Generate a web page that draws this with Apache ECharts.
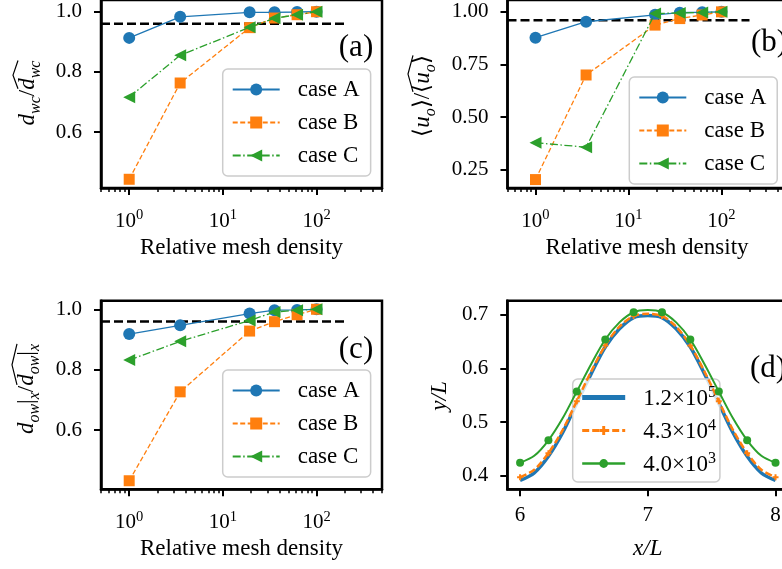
<!DOCTYPE html>
<html>
<head>
<meta charset="utf-8">
<script src="https://cdn.jsdelivr.net/npm/echarts@6/dist/echarts.min.js"></script>
<style>
  html, body { margin: 0; padding: 0; background: #fff; overflow: hidden; }
  #chart { width: 800px; height: 569px; }
</style>
</head>
<body>
<div id="chart"></div>
<script>
// mesh convergence, panels (a)-(c)
const meshDensity = [1, 3.5, 19.3, 35.6, 62, 100];
const caseNames = ["case A", "case B", "case C"];
const dwcA = [0.913, 0.983, 0.998, 0.998, 0.999, 1.0];
const dwcB = [0.443, 0.763, 0.947, 0.979, 0.99, 1.0];
const dwcC = [0.716, 0.855, 0.948, 0.978, 0.99, 1.0];
const uoA = [0.877, 0.953, 0.986, 0.996, 0.998, 1.0];
const uoB = [0.203, 0.70, 0.937, 0.968, 0.985, 1.0];
const uoC = [0.378, 0.357, 0.992, 0.995, 0.997, 1.0];
const dowA = [0.918, 0.947, 0.986, 0.997, 0.998, 1.0];
const dowB = [0.433, 0.727, 0.928, 0.959, 0.982, 1.0];
const dowC = [0.832, 0.894, 0.963, 0.991, 0.997, 1.0];
const refLevel = 0.96;
const refSpan = [0.5, 200];
const decadeTicks = [1, 10, 100];
const minorLogTicks = [0.5, 0.6, 0.7, 0.8, 0.9, 2, 3, 4, 5, 6, 7, 8, 9, 20, 30, 40, 50, 60, 70, 80, 90, 200, 300, 400, 500];

// interface profile, panel (d)
const profileX = [6, 6.111, 6.222, 6.333, 6.444, 6.556, 6.667, 6.778, 6.889, 7, 7.111, 7.222, 7.333, 7.444, 7.556, 7.667, 7.778, 7.889, 8];
const profileFine = [0.391, 0.405, 0.436, 0.480, 0.535, 0.590, 0.640, 0.674, 0.695, 0.699, 0.695, 0.674, 0.640, 0.590, 0.535, 0.480, 0.436, 0.405, 0.391];
const profileMid = [0.397, 0.411, 0.442, 0.485, 0.539, 0.594, 0.643, 0.678, 0.698, 0.702, 0.698, 0.678, 0.643, 0.594, 0.539, 0.485, 0.442, 0.411, 0.397];
const profileCoarse = [0.424, 0.437, 0.466, 0.507, 0.557, 0.608, 0.654, 0.686, 0.705, 0.709, 0.705, 0.686, 0.654, 0.608, 0.557, 0.507, 0.466, 0.437, 0.424];
const profileNames = ["1.2e5", "4.3e4", "4.0e3"];
const profileLabels = { "1.2e5": ["1.2", "5"], "4.3e4": ["4.3", "4"], "4.0e3": ["4.0", "3"] };

const SERIF = "Liberation Serif";
const BLUE = "#1f77b4", ORANGE = "#ff7f0e", GREEN = "#2ca02c";
const caseColors = [BLUE, ORANGE, GREEN];
const caseSymbols = ["circle", "rect", "path://M0,6 L12,0 L12,12 Z"];
const caseSizes = [12, 11, 12];
const caseDash = ["solid", [5, 2.5], [8, 2.5, 1.5, 2.5]];
const PLUS = "path://M4,0 H8 V4 H12 V8 H8 V12 H4 V8 H0 V4 H4 Z";

// top spines of (a) and (b) sit just above the visible area
const grids = [
    { left: 101, top: -3.5, width: 281, height: 191.5 },
    { left: 507.5, top: -3.5, width: 279, height: 191.5 },
    { left: 101, top: 300.7, width: 281, height: 188.6 },
    { left: 507.3, top: 300.7, width: 281, height: 188.6 },
].map((g) => ({ ...g, show: true, borderColor: "#000", borderWidth: 2.5 }));

const tickFont = { fontFamily: SERIF, fontSize: 21, color: "#000" };
const axisLine = { lineStyle: { color: "#000", width: 2.5 } };

function logAxes(gi) {
    return [
        {
            type: "log", logBase: 10, gridIndex: gi, position: "bottom", min: 0.5, max: 500,
            axisLine,
            axisTick: { customValues: decadeTicks, length: 7, lineStyle: { color: "#000", width: 2 } },
            axisLabel: {
                customValues: decadeTicks, margin: 20,
                formatter: (v) => "{b|10}{s|" + Math.round(Math.log10(v)) + "}",
                rich: {
                    b: { ...tickFont, lineHeight: 24, verticalAlign: "bottom" },
                    s: { ...tickFont, fontSize: 14.5, lineHeight: 14, verticalAlign: "top" },
                },
            },
            splitLine: { show: false },
            name: "Relative mesh density", nameLocation: "middle", nameGap: 48,
            nameTextStyle: { fontFamily: SERIF, fontSize: 23, color: "#000", lineHeight: 23 },
        },
        {
            type: "log", logBase: 10, gridIndex: gi, position: "bottom", min: 0.5, max: 500,
            axisLine: { show: false },
            axisTick: { customValues: minorLogTicks, length: 4, lineStyle: { color: "#000", width: 1.5 } },
            axisLabel: { show: false },
            splitLine: { show: false },
        },
    ];
}

function valueY(gi, min, max, ticks, digits) {
    return {
        type: "value", gridIndex: gi, min, max,
        axisLine: { show: true, ...axisLine },
        axisTick: { show: true, customValues: ticks, length: 7, lineStyle: { color: "#000", width: 2 } },
        axisLabel: { customValues: ticks, margin: 19, ...tickFont, formatter: (v) => v.toFixed(digits) },
        splitLine: { show: false },
    };
}

const xAxis = [
    ...logAxes(0), ...logAxes(1), ...logAxes(2),
    {
        type: "value", gridIndex: 3, min: 5.9, max: 8.1,
        axisLine,
        axisTick: { customValues: [6, 7, 8], length: 7, lineStyle: { color: "#000", width: 2 } },
        axisLabel: { customValues: [6, 7, 8], margin: 16, ...tickFont },
        splitLine: { show: false },
        name: "x/L", nameLocation: "middle", nameGap: 48,
        nameTextStyle: { fontFamily: SERIF, fontStyle: "italic", fontSize: 23, color: "#000", lineHeight: 23 },
    },
];

// y ranges keep the tick rows where the reference puts them
const yAxis = [
    valueY(0, 0.414, 1.0389, [0.6, 0.8, 1.0], 1),
    valueY(1, 0.163, 1.0563, [0.25, 0.5, 0.75, 1.0], 2),
    valueY(2, 0.4047, 1.0284, [0.6, 0.8, 1.0], 1),
    valueY(3, 0.3745, 0.7265, [0.4, 0.5, 0.6, 0.7], 1),
];

const series = [];
const panels = [[dwcA, dwcB, dwcC], [uoA, uoB, uoC], [dowA, dowB, dowC]];
panels.forEach((cases, gi) => {
    series.push({
        name: "ref", type: "line", xAxisIndex: gi * 2, yAxisIndex: gi,
        data: refSpan.map((x) => [x, refLevel]),
        symbol: "none", lineStyle: { color: "#000", width: 2.5, type: [9, 4] }, z: 2,
    });
    cases.forEach((ys, k) => {
        series.push({
            name: caseNames[k], type: "line", xAxisIndex: gi * 2, yAxisIndex: gi,
            data: meshDensity.map((x, i) => [x, ys[i]]),
            symbol: caseSymbols[k], symbolSize: caseSizes[k], showAllSymbol: true,
            lineStyle: { color: caseColors[k], width: 1.3, type: caseDash[k] },
            itemStyle: { color: caseColors[k] },
            z: 3 + k,
        });
    });
});

// panel (d): markers on every other sample, as in the source figure
const markEvery = (ys, sym) => profileX.map((x, i) => ({ value: [x, ys[i]], symbol: i % 2 === 0 ? sym : "none" }));
series.push(
    {
        name: profileNames[0], type: "line", xAxisIndex: 6, yAxisIndex: 3, smooth: 0.3,
        data: profileX.map((x, i) => [x, profileFine[i]]), symbol: "none",
        lineStyle: { color: BLUE, width: 3.5 }, itemStyle: { color: BLUE }, z: 3,
    },
    {
        name: profileNames[1], type: "line", xAxisIndex: 6, yAxisIndex: 3, smooth: 0.3,
        data: markEvery(profileMid, PLUS), symbol: PLUS, symbolSize: 6, showAllSymbol: true,
        lineStyle: { color: ORANGE, width: 2.5, type: [7, 3] }, itemStyle: { color: ORANGE }, z: 4,
    },
    {
        name: profileNames[2], type: "line", xAxisIndex: 6, yAxisIndex: 3, smooth: 0.3,
        data: markEvery(profileCoarse, "circle"), symbol: "circle", symbolSize: 8, showAllSymbol: true,
        lineStyle: { color: GREEN, width: 2 }, itemStyle: { color: GREEN }, z: 5,
    }
);

const legendBase = {
    orient: "vertical", itemWidth: 47, itemHeight: 15, itemGap: 10,
    padding: [9, 11, 9, 9],
    backgroundColor: "rgba(255,255,255,0.8)", borderColor: "#cccccc", borderWidth: 1.5, borderRadius: 5,
    textStyle: { fontFamily: SERIF, fontSize: 23, color: "#000", lineHeight: 23, padding: [0, 0, 0, 13] },
    selectedMode: false,
};
const legend = [
    { ...legendBase, left: 222.7, top: 69, data: caseNames },
    { ...legendBase, left: 629.3, top: 77, data: caseNames },
    { ...legendBase, left: 222.7, top: 370, data: caseNames },
    {
        ...legendBase, left: 572.7, top: 379, itemWidth: 43, itemHeight: 11, itemGap: 8, padding: [6, 4, 6, 7],
        data: [
            {
                name: profileNames[0],
                itemStyle: { color: "rgba(0,0,0,0)", borderColor: "rgba(0,0,0,0)", borderWidth: 0 },
                lineStyle: { width: 5 },
            },
            { name: profileNames[1], lineStyle: { width: 3 } },
            { name: profileNames[2], lineStyle: { width: 2.5 } },
        ],
        formatter: (n) => "{n|" + profileLabels[n][0] + "\u00d710}{s|" + profileLabels[n][1] + "}",
        textStyle: {
            ...legendBase.textStyle,
            rich: {
                n: { fontFamily: SERIF, fontSize: 23, color: "#000", lineHeight: 25, verticalAlign: "bottom" },
                s: { fontFamily: SERIF, fontSize: 16, color: "#000", lineHeight: 15, verticalAlign: "top" },
            },
        },
    },
];

// rotated math-style y labels with a wide hat over the reference quantity
const measure = document.createElement("canvas").getContext("2d");
const labelFonts = { m: 'italic 23px "Liberation Serif"', s: 'italic 16px "Liberation Serif"', r: '23px "Liberation Serif"' };
const labelRich = {
    m: { fontFamily: SERIF, fontStyle: "italic", fontSize: 23, lineHeight: 28, verticalAlign: "top", fill: "#000" },
    s: { fontFamily: SERIF, fontStyle: "italic", fontSize: 16, lineHeight: 16, verticalAlign: "bottom", fill: "#000" },
    r: { fontFamily: SERIF, fontSize: 23, lineHeight: 28, verticalAlign: "top", fill: "#000" },
};
function hatLabel(cx, cy, pieces, hatFrom) {
    const widths = pieces.map(([t, k]) => { measure.font = labelFonts[k]; return measure.measureText(t).width; });
    const total = widths.reduce((a, b) => a + b, 0);
    const x0 = widths.slice(0, hatFrom).reduce((a, b) => a + b, 0) - total / 2;
    const x1 = total / 2;
    return {
        type: "group", x: cx, y: cy, rotation: Math.PI / 2,
        children: [
            {
                type: "text",
                style: { text: pieces.map(([t, k]) => "{" + k + "|" + t + "}").join(""), rich: labelRich, x: 0, y: 0, align: "center", verticalAlign: "middle" },
            },
            {
                type: "polyline",
                shape: { points: [[x0 + 1, -12], [(x0 + x1) / 2, -17], [x1, -12]] },
                style: { stroke: "#000", lineWidth: 1.2, fill: null },
            },
        ],
    };
}

const panelTag = (x, y, t) => ({
    type: "text", x, y,
    style: { text: t, fontFamily: SERIF, fontSize: 31, fill: "#000", align: "center", verticalAlign: "middle" },
    z: 10,
});

const graphic = [
    hatLabel(30, 93, [["d", "m"], ["wc", "s"], ["/", "r"], ["d", "m"], ["wc", "s"]], 3),
    hatLabel(425, 96, [["\u27e8", "r"], ["u", "m"], ["o", "s"], ["\u27e9", "r"], ["/", "r"], ["\u27e8", "r"], ["u", "m"], ["o", "s"], ["\u27e9", "r"]], 5),
    hatLabel(29, 389, [["d", "m"], ["ow", "s"], ["|", "r"], ["x", "s"], ["/", "r"], ["d", "m"], ["ow", "s"], ["|", "r"], ["x", "s"]], 5),
    {
        type: "text", x: 440, y: 396, rotation: Math.PI / 2,
        style: { text: "y/L", fontFamily: SERIF, fontStyle: "italic", fontSize: 23, fill: "#000", align: "center", verticalAlign: "middle" },
    },
    panelTag(356, 48, "(a)"),
    panelTag(769, 43, "(b)"),
    panelTag(356, 350, "(c)"),
    panelTag(768, 369, "(d)"),
];

const chart = echarts.init(document.getElementById("chart"), null, { renderer: "canvas" });
chart.setOption({
    animation: false,
    textStyle: { fontFamily: SERIF },
    grid: grids,
    xAxis,
    yAxis,
    legend,
    series,
    graphic,
});
</script>
</body>
</html>
